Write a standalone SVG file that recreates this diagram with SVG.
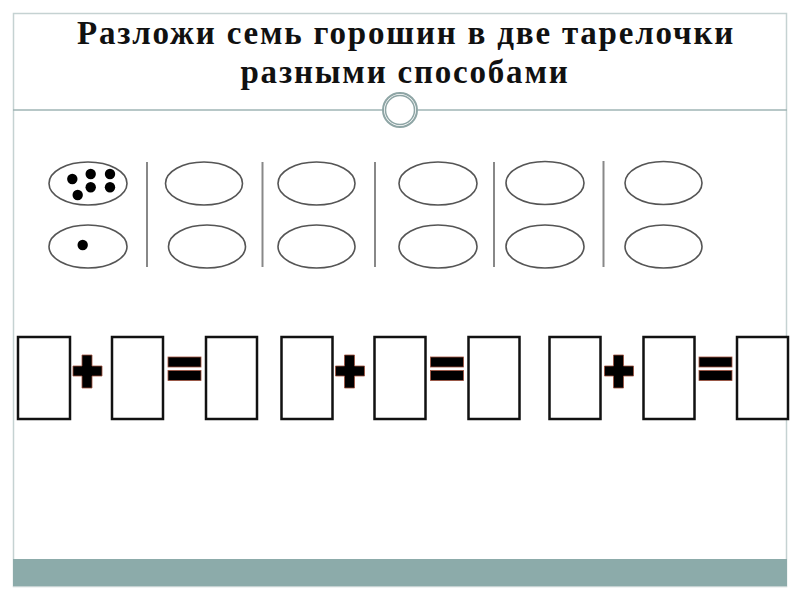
<svg xmlns="http://www.w3.org/2000/svg" width="800" height="600" viewBox="0 0 800 600">
<style>
.title{font-family:"Liberation Serif","Times New Roman",serif;font-weight:bold;font-size:33px;letter-spacing:1.8px;fill:#111;text-anchor:middle}
.plate{fill:#fff;stroke:#555;stroke-width:1.6}
.div{stroke:#888;stroke-width:2}
.pea{fill:#000}
.box{fill:#fff;stroke:#111;stroke-width:2.5}
.sign{fill:#000;stroke:#a0503c;stroke-width:0.8}
</style>
<rect x="0" y="0" width="800" height="600" fill="#fff"/>
<g id="frame">
<rect x="13.5" y="13.5" width="773" height="573" fill="none" stroke="#c5d2d2" stroke-width="1.5"/>
<rect x="13" y="559" width="774" height="27" fill="#8cabaa"/>
<line x1="13" y1="110" x2="382" y2="110" stroke="#9fb5b5" stroke-width="1.5"/>
<line x1="418" y1="110" x2="787" y2="110" stroke="#9fb5b5" stroke-width="1.5"/>
<circle cx="400" cy="110" r="17" fill="#fff" stroke="#8ea5a5" stroke-width="2"/>
<circle cx="400" cy="110" r="14.5" fill="none" stroke="#8ea5a5" stroke-width="1.5"/>
</g>
<g id="title">
<text class="title" x="406" y="44">Разложи семь горошин в две тарелочки</text>
<text class="title" x="405" y="83">разными способами</text>
</g>
<g id="plates">
<ellipse class="plate" cx="88" cy="183.5" rx="39" ry="21.5"/>
<ellipse class="plate" cx="88" cy="246.5" rx="39" ry="21.5"/>
<ellipse class="plate" cx="204" cy="183.5" rx="38.5" ry="21.5"/>
<ellipse class="plate" cx="207" cy="246.5" rx="38.5" ry="21.5"/>
<ellipse class="plate" cx="316.5" cy="183.5" rx="38.5" ry="21.5"/>
<ellipse class="plate" cx="316.5" cy="246.5" rx="38.5" ry="21.5"/>
<ellipse class="plate" cx="438" cy="183.5" rx="39" ry="21.5"/>
<ellipse class="plate" cx="438" cy="246.5" rx="39" ry="21.5"/>
<ellipse class="plate" cx="545" cy="183" rx="39" ry="21.5"/>
<ellipse class="plate" cx="545" cy="246.5" rx="39" ry="21.5"/>
<ellipse class="plate" cx="663.5" cy="183" rx="38.5" ry="21.5"/>
<ellipse class="plate" cx="663.5" cy="246.5" rx="38.5" ry="21.5"/>
</g>
<g id="peas">
<circle class="pea" cx="72.3" cy="179" r="5.2"/>
<circle class="pea" cx="90.7" cy="174" r="5.2"/>
<circle class="pea" cx="110" cy="174" r="5.2"/>
<circle class="pea" cx="90.7" cy="187.3" r="5.2"/>
<circle class="pea" cx="110" cy="187.3" r="5.2"/>
<circle class="pea" cx="77.7" cy="195" r="5.2"/>
<circle class="pea" cx="82.7" cy="245" r="5.2"/>
</g>
<g id="dividers">
<line class="div" x1="147" y1="162" x2="147" y2="267"/>
<line class="div" x1="262.5" y1="162" x2="262.5" y2="267"/>
<line class="div" x1="375" y1="162" x2="375" y2="267"/>
<line class="div" x1="494" y1="162" x2="494" y2="267"/>
<line class="div" x1="603.5" y1="161" x2="603.5" y2="267"/>
</g>
<g id="equations">
<rect class="box" x="18" y="337" width="52" height="82"/>
<rect class="box" x="112" y="337" width="51" height="82"/>
<rect class="box" x="206" y="337" width="51" height="82"/>
<rect class="box" x="281.5" y="337" width="51" height="82"/>
<rect class="box" x="374.5" y="337" width="51" height="82"/>
<rect class="box" x="468.5" y="337" width="51" height="82"/>
<rect class="box" x="549.5" y="337" width="51" height="82"/>
<rect class="box" x="643.5" y="337" width="51" height="82"/>
<rect class="box" x="737" y="337" width="51" height="82"/>
<path class="sign" d="M82 355h10v11h10v10h-10v12h-10v-12h-9v-10h9z"/>
<path class="sign" d="M344.5 355h10v11h10v10h-10v12h-10v-12h-9v-10h9z"/>
<path class="sign" d="M613.5 355h10v11h10v10h-10v12h-10v-12h-9v-10h9z"/>
<rect class="sign" x="168" y="357" width="33" height="10"/>
<rect class="sign" x="168" y="370.5" width="33" height="10"/>
<rect class="sign" x="430.5" y="357" width="33" height="10"/>
<rect class="sign" x="430.5" y="370.5" width="33" height="10"/>
<rect class="sign" x="699" y="357" width="33" height="10"/>
<rect class="sign" x="699" y="370.5" width="33" height="10"/>
</g>
</svg>
